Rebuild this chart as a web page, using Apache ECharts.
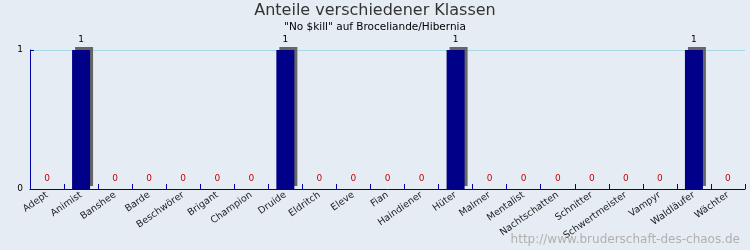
<!DOCTYPE html>
<html><head><meta charset="utf-8">
<script src="https://cdn.jsdelivr.net/npm/echarts@6/dist/echarts.min.js"></script>
<style>html,body{margin:0;padding:0;background:#e6ecf3;}#c{width:750px;height:250px;}</style>
</head><body><div id="c"></div>
<script>
const categories = ["Adept","Animist","Banshee","Barde","Beschwörer","Brigant","Champion","Druide","Eldritch","Eleve","Fian","Haindiener","Hüter","Malmer","Mentalist","Nachtschatten","Schnitter","Schwertmeister","Vampyr","Waldläufer","Wächter"];
const values = [0,1,0,0,0,0,0,1,0,0,0,0,1,0,0,0,0,0,0,1,0];
const yTicks = [0,1];
const chart = echarts.init(document.getElementById('c'), null, {renderer:'canvas'});
chart.setOption({
  backgroundColor:'#e6ecf3',
  animation:false,
  textStyle:{fontFamily:'DejaVu Sans'},
  title:[
    {text:'Anteile verschiedener Klassen', left:'center', top:-2, textStyle:{fontSize:16, fontWeight:'normal', color:'#333', fontFamily:'DejaVu Sans'}},
    {text:'"No $kill" auf Broceliande/Hibernia', left:'center', top:17, textStyle:{fontSize:10.5, fontWeight:'normal', color:'#000', fontFamily:'DejaVu Sans'}},
    {text:'http://www.bruderschaft-des-chaos.de', right:5, bottom:-1, textStyle:{fontSize:12, fontWeight:'normal', color:'#b0b0b0', fontFamily:'DejaVu Sans'}}
  ],
  grid:{left:30, right:5, top:50, bottom:61},
  xAxis:{type:'category', data:categories,
    axisLine:{show:true, lineStyle:{color:'#0000aa', width:1}},
    axisTick:{show:true, inside:true, length:5, lineStyle:{color:'#0000aa'}},
    axisLabel:{show:true, rotate:35, fontSize:9.5, color:'#222', margin:5, interval:0, fontFamily:'DejaVu Sans'}
  },
  yAxis:{type:'value', min:yTicks[0], max:yTicks[yTicks.length-1], interval:1,
    axisLine:{show:true, lineStyle:{color:'#0000aa'}},
    axisTick:{show:true, inside:true, length:4, lineStyle:{color:'#0000aa'}},
    axisLabel:{fontSize:9, color:'#000', margin:7},
    splitLine:{show:true, lineStyle:{color:'#a8d8e6'}}
  },
  series:[{type:'bar', data:values.map(v=>({value:v, label:{color: v===0?'#cc0000':'#000'}})), barWidth:18,
    itemStyle:{color:'#000088', shadowColor:'#666', shadowOffsetX:3, shadowOffsetY:-3, shadowBlur:0},
    label:{show:true, position:'top', fontSize:9, distance:6}
  }]
});
</script></body></html>
